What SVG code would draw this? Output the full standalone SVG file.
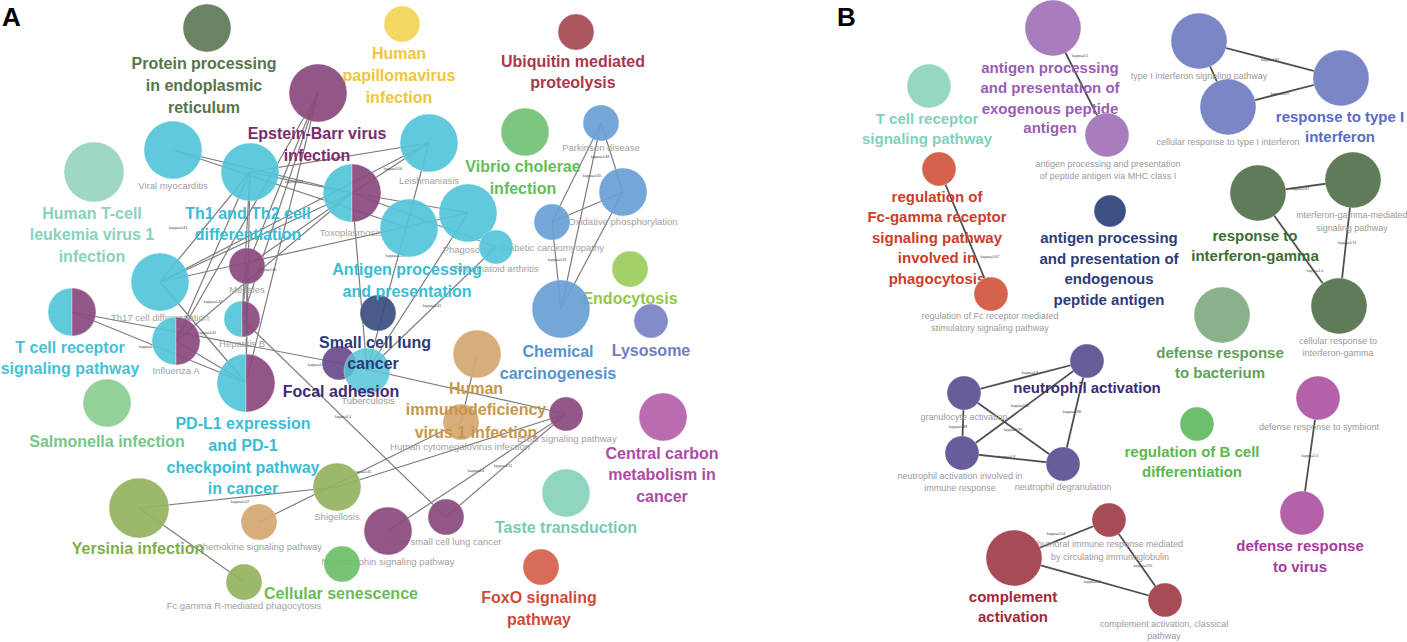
<svg xmlns="http://www.w3.org/2000/svg" width="1407" height="642" viewBox="0 0 1407 642">
<style>
text{font-family:"Liberation Sans",Arial,sans-serif}
.L{font-weight:bold;text-anchor:middle;font-size:16px}
.LB{font-weight:bold;text-anchor:middle;font-size:15px}
.s{font-size:9.5px;fill:#9a9a9a;text-anchor:middle}
.sb{font-size:9px;fill:#9a9a9a;text-anchor:middle}
.k{font-size:3.5px;fill:#444;text-anchor:middle}
.pan{font-weight:bold;font-size:26px;fill:#000}
.ea line{stroke:#7d7d7d;stroke-width:1.2}
.eb line{stroke:#4f4f4f;stroke-width:1.8}
circle,path{stroke:#fff;stroke-opacity:.4;stroke-width:.8}
.na{opacity:.93}
.cy{fill:#55c5d9}.pu{fill:#8b4b7e}.bl{fill:#6aa0d5}.tan{fill:#d4a872}.ol{fill:#95b35f}
</style>
<rect width="1407" height="642" fill="#fff"/>
<text class="pan" x="2" y="26">A</text>
<text class="pan" x="837" y="26">B</text>

<g id="edges-A" class="ea">
<line x1="173" y1="150" x2="352" y2="193"/>
<line x1="173" y1="150" x2="409" y2="228"/>
<line x1="250" y1="172" x2="429" y2="143"/>
<line x1="250" y1="172" x2="352" y2="193"/>
<line x1="250" y1="172" x2="160" y2="282"/>
<line x1="250" y1="172" x2="176" y2="341"/>
<line x1="250" y1="172" x2="242" y2="319"/>
<line x1="250" y1="172" x2="246" y2="383"/>
<line x1="318" y1="93" x2="242" y2="319"/>
<line x1="318" y1="93" x2="246" y2="383"/>
<line x1="318" y1="93" x2="176" y2="341"/>
<line x1="318" y1="93" x2="247" y2="266"/>
<line x1="352" y1="193" x2="429" y2="143"/>
<line x1="352" y1="193" x2="160" y2="282"/>
<line x1="352" y1="193" x2="176" y2="341"/>
<line x1="352" y1="193" x2="247" y2="266"/>
<line x1="352" y1="193" x2="367" y2="371"/>
<line x1="352" y1="193" x2="468" y2="213"/>
<line x1="352" y1="193" x2="496" y2="247"/>
<line x1="429" y1="143" x2="367" y2="371"/>
<line x1="468" y1="213" x2="367" y2="371"/>
<line x1="496" y1="247" x2="367" y2="371"/>
<line x1="160" y1="282" x2="429" y2="143"/>
<line x1="160" y1="282" x2="468" y2="213"/>
<line x1="160" y1="282" x2="246" y2="383"/>
<line x1="176" y1="341" x2="246" y2="383"/>
<line x1="72" y1="312" x2="246" y2="383"/>
<line x1="72" y1="312" x2="339" y2="363"/>
<line x1="339" y1="363" x2="566" y2="414"/>
<line x1="242" y1="319" x2="446" y2="517"/>
<line x1="247" y1="266" x2="246" y2="383"/>
<line x1="247" y1="266" x2="242" y2="319"/>
<line x1="477" y1="354" x2="461" y2="422"/>
<line x1="259" y1="522" x2="461" y2="422"/>
<line x1="139" y1="508" x2="337" y2="487"/>
<line x1="139" y1="508" x2="244" y2="582"/>
<line x1="337" y1="487" x2="566" y2="414"/>
<line x1="388" y1="531" x2="566" y2="414"/>
<line x1="446" y1="517" x2="566" y2="414"/>
<line x1="601" y1="123" x2="552" y2="222"/>
<line x1="601" y1="123" x2="561" y2="309"/>
<line x1="601" y1="123" x2="623" y2="192"/>
<line x1="552" y1="222" x2="623" y2="192"/>
<line x1="552" y1="222" x2="561" y2="309"/>
<line x1="623" y1="192" x2="561" y2="309"/>
</g>

<g id="edges-B" class="eb">
<line x1="1053" y1="28" x2="1107" y2="135"/>
<line x1="939" y1="169" x2="991" y2="294"/>
<line x1="1199" y1="41" x2="1341" y2="78"/>
<line x1="1199" y1="41" x2="1228" y2="107"/>
<line x1="1228" y1="107" x2="1341" y2="78"/>
<line x1="1258" y1="193" x2="1353" y2="180"/>
<line x1="1258" y1="193" x2="1339" y2="306"/>
<line x1="1353" y1="180" x2="1339" y2="306"/>
<line x1="1087" y1="361" x2="964" y2="393"/>
<line x1="1087" y1="361" x2="962" y2="453"/>
<line x1="1087" y1="361" x2="1063" y2="464"/>
<line x1="964" y1="393" x2="962" y2="453"/>
<line x1="964" y1="393" x2="1063" y2="464"/>
<line x1="962" y1="453" x2="1063" y2="464"/>
<line x1="1318" y1="398" x2="1302" y2="513"/>
<line x1="1014" y1="558" x2="1109" y2="520"/>
<line x1="1014" y1="558" x2="1165" y2="600"/>
<line x1="1109" y1="520" x2="1165" y2="600"/>
</g>

<g id="edge-labels">
<text class="k" x="393" y="170">kappa=0.56</text>
<text class="k" x="395" y="257">kappa=0.48</text>
<text class="k" x="432" y="307">kappa=0.41</text>
<text class="k" x="343" y="418">kappa=0.4</text>
<text class="k" x="476" y="472">kappa=0.4</text>
<text class="k" x="503" y="467">kappa=0.51</text>
<text class="k" x="362" y="473">kappa=0.45</text>
<text class="k" x="557" y="261">kappa=0.53</text>
<text class="k" x="600" y="158">kappa=0.48</text>
<text class="k" x="592" y="177">kappa=0.45</text>
<text class="k" x="178" y="229">kappa=0.43</text>
<text class="k" x="267" y="271">kappa=0.40</text>
<text class="k" x="213" y="303">kappa=0.42</text>
<text class="k" x="207" y="334">kappa=0.41</text>
<text class="k" x="147" y="348">kappa=0.4</text>
<text class="k" x="294" y="183">kappa=0.41</text>
<text class="k" x="317" y="366">kappa=0.37</text>
<text class="k" x="240" y="503">kappa=0.47</text>
<text class="k" x="1080" y="57">kappa=0.5</text>
<text class="k" x="990" y="258">kappa=0.67</text>
<text class="k" x="1270" y="61">kappa=0.97</text>
<text class="k" x="1280" y="95">kappa=0.97</text>
<text class="k" x="1300" y="190">kappa=0.87</text>
<text class="k" x="1315" y="272">kappa=1.0</text>
<text class="k" x="1347" y="244">kappa=0.73</text>
<text class="k" x="1310" y="457">kappa=1.0</text>
<text class="k" x="1030" y="374">kappa=0.8</text>
<text class="k" x="1020" y="407">kappa=0.85</text>
<text class="k" x="1072" y="413">kappa=0.86</text>
<text class="k" x="958" y="428">kappa=0.88</text>
<text class="k" x="1013" y="431">kappa=0.87</text>
<text class="k" x="1007" y="458">kappa=0.9</text>
<text class="k" x="1056" y="535">kappa=0.54</text>
<text class="k" x="1092" y="583">kappa=0.8</text>
<text class="k" x="1143" y="567">kappa=0.55</text>
</g>

<!-- Panel A nodes -->
<g id="a-protein" class="na"><circle cx="207" cy="28" r="24" fill="#5f7b56"/>
<text class="L" fill="#4b6b3d"><tspan x="204" y="69">Protein processing</tspan><tspan x="204" y="91">in endoplasmic</tspan><tspan x="204" y="113">reticulum</tspan></text></g>
<g id="a-hpv" class="na"><circle cx="402" cy="24" r="18" fill="#f5d458"/>
<text class="L" fill="#f0c030"><tspan x="399" y="59">Human</tspan><tspan x="399" y="81">papillomavirus</tspan><tspan x="399" y="103">infection</tspan></text></g>
<g id="a-ubiquitin" class="na"><circle cx="576" cy="32" r="18" fill="#a64b57"/>
<text class="L" fill="#a32a3e"><tspan x="573" y="67">Ubiquitin mediated</tspan><tspan x="573" y="88">proteolysis</tspan></text></g>
<g id="a-viral" class="na"><circle class="cy" cx="173" cy="150" r="29"/><text class="s" x="173" y="189">Viral myocarditis</text></g>
<g id="a-htlv" class="na"><circle cx="94" cy="172" r="30" fill="#97d4c3"/>
<text class="L" fill="#80cfb9"><tspan x="92" y="219">Human T-cell</tspan><tspan x="92" y="240">leukemia virus 1</tspan><tspan x="92" y="262">infection</tspan></text></g>
<g id="a-th1" class="na"><circle class="cy" cx="250" cy="172" r="29"/></g>
<g id="a-ebv" class="na"><circle class="pu" cx="318" cy="93" r="29"/></g>
<g id="a-leish" class="na"><circle class="cy" cx="429" cy="143" r="29"/><text class="s" x="429" y="184">Leishmaniasis</text></g>
<g id="a-vibrio" class="na"><circle cx="525" cy="132" r="24" fill="#74c276"/>
<text class="L" fill="#58b84c"><tspan x="523" y="172">Vibrio cholerae</tspan><tspan x="523" y="194">infection</tspan></text></g>
<g id="a-parkinson" class="na"><circle class="bl" cx="601" cy="123" r="18"/><text class="s" x="601" y="151">Parkinson disease</text></g>
<g id="a-toxo" class="na"><path fill="#55c5d9" d="M352 164A29 29 0 0 0 352 222Z"/><path fill="#8b4b7e" d="M352 164A29 29 0 0 1 352 222Z"/><text class="s" x="351" y="236">Toxoplasmosis</text></g>
<g id="a-oxphos" class="na"><circle class="bl" cx="623" cy="192" r="24"/><text class="s" x="623" y="225">Oxidative phosphorylation</text></g>
<g id="a-diabetic" class="na"><circle class="bl" cx="552" cy="222" r="18"/><text class="s" x="552" y="251">Diabetic cardiomyopathy</text></g>
<g id="a-antigen" class="na"><circle class="cy" cx="409" cy="228" r="29"/></g>
<g id="a-phagosome" class="na"><circle class="cy" cx="468" cy="213" r="29"/><text class="s" x="468" y="253">Phagosome</text></g>
<g id="a-ra" class="na"><circle class="cy" cx="496" cy="247" r="17"/><text class="s" x="496" y="272">Rheumatoid arthritis</text></g>
<g id="a-th17" class="na"><circle class="cy" cx="160" cy="282" r="29"/><text class="s" x="160" y="321">Th17 cell differentiation</text></g>
<g id="a-measles" class="na"><circle class="pu" cx="247" cy="266" r="18"/><text class="s" x="247" y="293">Measles</text></g>
<g id="a-endocytosis" class="na"><circle cx="630" cy="269" r="18" fill="#9dcd5e"/><text class="L" fill="#8cc43c" x="630" y="304">Endocytosis</text></g>
<g id="a-chemical" class="na"><circle class="bl" cx="561" cy="309" r="29"/>
<text class="L" fill="#4a8bcb"><tspan x="558" y="357">Chemical</tspan><tspan x="558" y="379">carcinogenesis</tspan></text></g>
<g id="a-lysosome" class="na"><circle cx="651" cy="321" r="17" fill="#7b83c5"/><text class="L" fill="#6a73c0" x="651" y="356">Lysosome</text></g>
<g id="a-sclc" class="na"><circle cx="378" cy="313" r="18" fill="#3c4f80"/></g>
<g id="a-tcr" class="na"><path fill="#55c5d9" d="M72 288A24 24 0 0 0 72 336Z"/><path fill="#8b4b7e" d="M72 288A24 24 0 0 1 72 336Z"/>
<text class="L" fill="#38bdd6"><tspan x="70" y="353">T cell receptor</tspan><tspan x="70" y="374">signaling pathway</tspan></text></g>
<g id="a-hepb" class="na"><path fill="#55c5d9" d="M242 301A18 18 0 0 0 242 337Z"/><path fill="#8b4b7e" d="M242 301A18 18 0 0 1 242 337Z"/><text class="s" x="242" y="347">Hepatitis B</text></g>
<g id="a-influenza" class="na"><path fill="#55c5d9" d="M176 317A24 24 0 0 0 176 365Z"/><path fill="#8b4b7e" d="M176 317A24 24 0 0 1 176 365Z"/><text class="s" x="176" y="374">Influenza A</text></g>
<g id="a-hiv" class="na"><circle class="tan" cx="477" cy="354" r="24"/></g>
<g id="a-focal" class="na"><circle cx="339" cy="363" r="17" fill="#6b4d8e"/></g>
<g id="a-tb"><circle cx="367" cy="371" r="23" fill="#55c5d9" fill-opacity=".85"/><text class="s" x="368" y="404">Tuberculosis</text></g>
<g id="a-pdl1" class="na"><path fill="#55c5d9" d="M246 354A29 29 0 0 0 246 412Z"/><path fill="#8b4b7e" d="M246 354A29 29 0 0 1 246 412Z"/></g>
<g id="a-salmonella" class="na"><circle cx="107" cy="403" r="24" fill="#8dcf93"/><text class="L" fill="#6cc383" x="107" y="447">Salmonella infection</text></g>
<g id="a-erbb" class="na"><circle class="pu" cx="566" cy="414" r="17"/><text class="s" x="567" y="442">ErbB signaling pathway</text></g>
<g id="a-central" class="na"><circle cx="663" cy="417" r="24" fill="#b660aa"/>
<text class="L" fill="#a93c9e"><tspan x="662" y="459">Central carbon</tspan><tspan x="662" y="480">metabolism in</tspan><tspan x="662" y="502">cancer</tspan></text></g>
<g id="a-hcmv" class="na"><circle class="tan" cx="461" cy="422" r="18"/><text class="s" x="460" y="450">Human cytomegalovirus infection</text></g>
<g id="a-shigellosis" class="na"><circle class="ol" cx="337" cy="487" r="24"/><text class="s" x="337" y="520">Shigellosis</text></g>
<g id="a-taste" class="na"><circle cx="566" cy="493" r="24" fill="#88d2be"/><text class="L" fill="#6ec8ac" x="566" y="533">Taste transduction</text></g>
<g id="a-yersinia" class="na"><circle class="ol" cx="139" cy="508" r="30"/><text class="L" fill="#78a83a" x="138" y="554">Yersinia infection</text></g>
<g id="a-nsclc" class="na"><circle class="pu" cx="446" cy="517" r="18"/><text class="s" x="446" y="545">Non small cell lung cancer</text></g>
<g id="a-chemokine" class="na"><circle class="tan" cx="259" cy="522" r="18"/><text class="s" x="259" y="550">Chemokine signaling pathway</text></g>
<g id="a-neurotrophin" class="na"><circle class="pu" cx="388" cy="531" r="24"/><text class="s" x="388" y="565">Neurotrophin signaling pathway</text></g>
<g id="a-senescence" class="na"><circle cx="342" cy="564" r="18" fill="#6cc06a"/><text class="L" fill="#5cb84a" x="341" y="599">Cellular senescence</text></g>
<g id="a-foxo" class="na"><circle cx="541" cy="567" r="18" fill="#d4614c"/>
<text class="L" fill="#cc3d2b"><tspan x="539" y="603">FoxO signaling</tspan><tspan x="539" y="625">pathway</tspan></text></g>
<g id="a-fcgamma" class="na"><circle class="ol" cx="244" cy="582" r="18"/><text class="s" x="244" y="609">Fc gamma R-mediated phagocytosis</text></g>

<g id="a-labels-over">
<text class="L" fill="#7b2c6e"><tspan x="317" y="139">Epstein-Barr virus</tspan><tspan x="317" y="161">infection</tspan></text>
<text class="L" fill="#38bdd6"><tspan x="248" y="219">Th1 and Th2 cell</tspan><tspan x="248" y="240">differentiation</tspan></text>
<text class="L" fill="#38bdd6"><tspan x="407" y="275">Antigen processing</tspan><tspan x="407" y="297">and presentation</tspan></text>
<text class="L" fill="#2b3b78"><tspan x="375" y="348">Small cell lung</tspan><tspan x="373" y="369">cancer</tspan></text>
<text class="L" fill="#3f2b72" x="341" y="397">Focal adhesion</text>
<text class="L" fill="#c8954d"><tspan x="476" y="394">Human</tspan><tspan x="476" y="415">immunodeficiency</tspan><tspan x="476" y="438">virus 1 infection</tspan></text>
<text class="L" fill="#38bdd6"><tspan x="243" y="429">PD-L1 expression</tspan><tspan x="243" y="451">and PD-1</tspan><tspan x="243" y="473">checkpoint pathway</tspan><tspan x="243" y="494">in cancer</tspan></text>
</g>

<!-- Panel B nodes -->
<g id="b-exo"><circle cx="1053" cy="28" r="28" fill="#a77dbe"/>
<text class="LB" fill="#9a5db5"><tspan x="1050" y="73">antigen processing</tspan><tspan x="1050" y="93">and presentation of</tspan><tspan x="1050" y="114">exogenous peptide</tspan><tspan x="1050" y="133">antigen</tspan></text></g>
<g id="b-mhc1"><circle cx="1107" cy="135" r="22" fill="#a77dbe"/>
<text class="sb"><tspan x="1108" y="167">antigen processing and presentation</tspan><tspan x="1108" y="179">of peptide antigen via MHC class I</tspan></text></g>
<g id="b-tcr"><circle cx="929" cy="86" r="22" fill="#95d6c4"/>
<text class="LB" fill="#7fd2bb"><tspan x="927" y="124">T cell receptor</tspan><tspan x="927" y="144">signaling pathway</tspan></text></g>
<g id="b-fcgamma"><circle cx="939" cy="169" r="17" fill="#d4634d"/>
<text class="LB" fill="#cc3d2a"><tspan x="937" y="202">regulation of</tspan><tspan x="937" y="222">Fc-gamma receptor</tspan><tspan x="937" y="243">signaling pathway</tspan><tspan x="937" y="263">involved in</tspan><tspan x="937" y="284">phagocytosis</tspan></text></g>
<g id="b-fcreceptor"><circle cx="991" cy="294" r="17" fill="#d4634d"/>
<text class="sb"><tspan x="990" y="319">regulation of Fc receptor mediated</tspan><tspan x="990" y="331">stimulatory signaling pathway</tspan></text></g>
<g id="b-endo"><circle cx="1110" cy="211" r="16" fill="#3d5083"/>
<text class="LB" fill="#2d3c7a"><tspan x="1109" y="243">antigen processing</tspan><tspan x="1109" y="264">and presentation of</tspan><tspan x="1109" y="284">endogenous</tspan><tspan x="1109" y="305">peptide antigen</tspan></text></g>
<g id="b-typeI-sig"><circle cx="1199" cy="41" r="28" fill="#7a86c6"/><text class="sb" x="1199" y="79">type I interferon signaling pathway</text></g>
<g id="b-typeI-resp"><circle cx="1341" cy="78" r="28" fill="#7a86c6"/>
<text class="LB" fill="#5b6cc1"><tspan x="1340" y="122">response to type I</tspan><tspan x="1340" y="142">interferon</tspan></text></g>
<g id="b-typeI-cell"><circle cx="1228" cy="107" r="28" fill="#7a86c6"/><text class="sb" x="1228" y="145">cellular response to type I interferon</text></g>
<g id="b-ifng-resp"><circle cx="1258" cy="193" r="28" fill="#5f7b57"/>
<text class="LB" fill="#3e6d33"><tspan x="1255" y="241">response to</tspan><tspan x="1255" y="261">interferon-gamma</tspan></text></g>
<g id="b-ifng-med"><circle cx="1353" cy="180" r="28" fill="#5f7b57"/>
<text class="sb"><tspan x="1352" y="218">interferon-gamma-mediated</tspan><tspan x="1352" y="231">signaling pathway</tspan></text></g>
<g id="b-ifng-cell"><circle cx="1339" cy="306" r="28" fill="#5f7b57"/>
<text class="sb"><tspan x="1338" y="344">cellular response to</tspan><tspan x="1338" y="356">interferon-gamma</tspan></text></g>
<g id="b-bacterium"><circle cx="1222" cy="315" r="28" fill="#89b18a"/>
<text class="LB" fill="#5fa05c"><tspan x="1220" y="358">defense response</tspan><tspan x="1220" y="378">to bacterium</tspan></text></g>
<g id="b-neut-act"><circle cx="1087" cy="361" r="17" fill="#6a5b9b"/></g>
<g id="b-granulocyte"><circle cx="964" cy="393" r="17" fill="#6a5b9b"/><text class="sb" x="964" y="420">granulocyte activation</text></g>
<g id="b-neut-inv"><circle cx="962" cy="453" r="17" fill="#6a5b9b"/>
<text class="sb"><tspan x="960" y="479">neutrophil activation involved in</tspan><tspan x="960" y="491">immune response</tspan></text></g>
<g id="b-neut-degr"><circle cx="1063" cy="464" r="17" fill="#6a5b9b"/><text class="sb" x="1063" y="490">neutrophil degranulation</text></g>
<g id="b-bcell"><circle cx="1197" cy="424" r="17" fill="#6cc06c"/>
<text class="LB" fill="#5cb84c"><tspan x="1192" y="457">regulation of B cell</tspan><tspan x="1192" y="477">differentiation</tspan></text></g>
<g id="b-symbiont"><circle cx="1318" cy="398" r="22" fill="#b561a9"/><text class="sb" x="1319" y="430">defense response to symbiont</text></g>
<g id="b-virus"><circle cx="1302" cy="513" r="22" fill="#b561a9"/>
<text class="LB" fill="#a83b9d"><tspan x="1300" y="551">defense response</tspan><tspan x="1300" y="572">to virus</tspan></text></g>
<g id="b-humoral"><circle cx="1109" cy="520" r="17" fill="#a84b58"/>
<text class="sb"><tspan x="1110" y="547">humoral immune response mediated</tspan><tspan x="1110" y="560">by circulating immunoglobulin</tspan></text></g>
<g id="b-complement"><circle cx="1014" cy="558" r="28" fill="#a84b58"/>
<text class="LB" fill="#a3283d"><tspan x="1013" y="602">complement</tspan><tspan x="1013" y="622">activation</tspan></text></g>
<g id="b-classical"><circle cx="1165" cy="600" r="17" fill="#a84b58"/>
<text class="sb"><tspan x="1164" y="627">complement activation, classical</tspan><tspan x="1164" y="639">pathway</tspan></text></g>
<text class="LB" fill="#3b2b78" x="1087" y="393">neutrophil activation</text>
</svg>
